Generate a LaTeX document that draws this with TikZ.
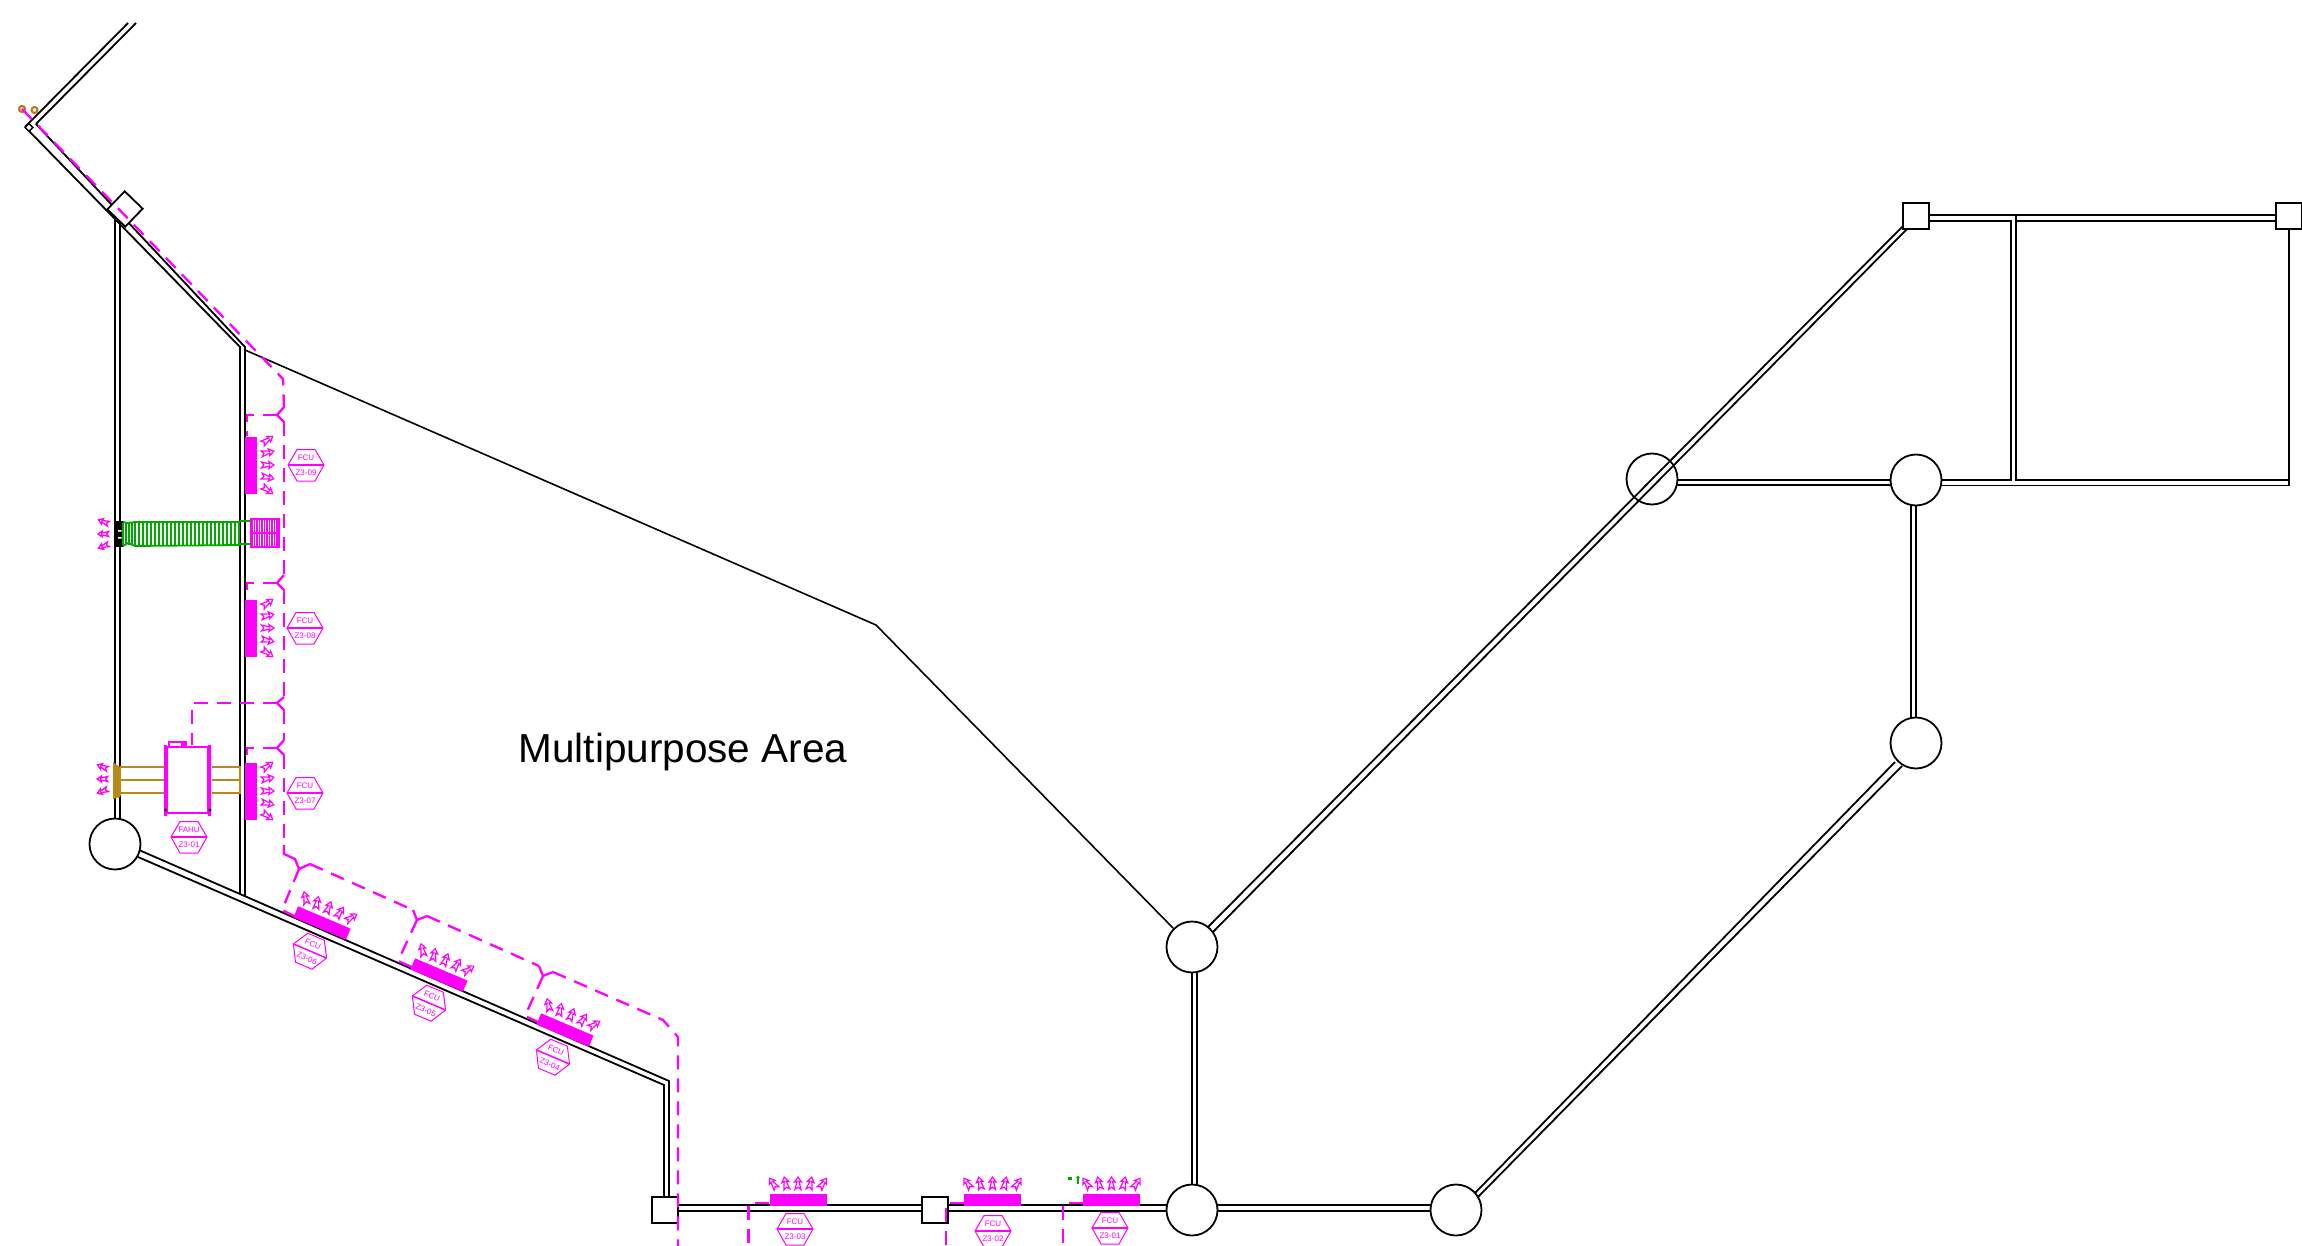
\documentclass[tikz,border=0pt]{standalone}
\usepackage{fontspec}
\setmainfont{Liberation Sans}
\definecolor{mag}{HTML}{FF00FF}
\definecolor{grn}{HTML}{00A800}
\definecolor{gld}{HTML}{B8891A}
\definecolor{org}{HTML}{C8701E}
\tikzset{
  wall/.style={black,line width=1.8pt},
  thinwall/.style={black,line width=1.6pt},
  junc/.style={circle,draw=black,fill=white,line width=1.8pt,minimum size=51pt,inner sep=0pt},
  sqnode/.style={rectangle,draw=black,fill=white,line width=1.8pt,minimum size=26pt,inner sep=0pt},
  pipe/.style={mag,line width=2.3pt,dash pattern=on 14pt off 9pt},
  pipesolid/.style={mag,line width=2.3pt},
  arrowmark/.style={mag,line width=1.2pt,fill=white,line join=miter},
  tagline/.style={mag,line width=1pt},
  tagtext/.style={text=mag,inner sep=0pt,font=\fontsize{8}{9}\selectfont,transform shape},
  rib/.style={grn,line width=1.5pt},
  gold/.style={gld,line width=2pt}
}
\newcommand{\glyph}{(0,-7)--(-3.4,-2)--(-1,-2.6)--(-3,5.5)--(0,3.2)--(3,5.5)--(1,-2.6)--(3.4,-2)--cycle}
% unit: cx cy rotation
\newcommand{\airunit}[3]{%
  \begin{scope}[shift={(#1,#2)},rotate=#3]
    \fill[mag] (-28.5,-6) rectangle (28.5,6);
    \foreach \ox/\oa in {-24.6/35,-12.3/12,0/0,12.3/-12,24.6/-35}{
      \draw[arrowmark,shift={(\ox,-16)},rotate=\oa] \glyph;
    }
  \end{scope}}
% tag: cx cy rotation top bottom
\newcommand{\hextag}[5]{%
  \begin{scope}[shift={(#1,#2)},rotate=#3]
    \draw[tagline] (-18,0)--(-9,-15.5)--(9,-15.5)--(18,0)--(9,16)--(-9,16)--cycle;
    \draw[mag,line width=1.5pt] (-18,0)--(18,0);
    \node[tagtext] at (0,-7.6) {#4};
    \node[tagtext] at (0,8) {#5};
  \end{scope}}
% three arrows pointing left
\newcommand{\airleft}[2]{%
  \begin{scope}[shift={(#1,#2)},rotate=90]
    \foreach \ox/\oa in {-12/22,0/0,12/-22}{
      \draw[arrowmark,line width=1.3pt,shift={(\ox,0)},rotate=\oa,scale=0.85] \glyph;
    }
  \end{scope}}
\begin{document}
\begin{tikzpicture}[x=1pt,y=-1pt]
\useasboundingbox (0,0) rectangle (2302,1246);
\clip (0,0) rectangle (2302,1246);

% ---- walls
\draw[wall] (128,23)--(25,127);
\draw[wall] (136,23)--(36,124);
\draw[wall] (36,124)--(245,347)--(245,896);
\draw[wall] (29,131)--(240,347)--(240,894);
\draw[wall] (115,218)--(115,822);
\draw[wall] (119.7,220)--(119.7,822);
\draw[wall] (139,850)--(669,1081)--(669,1197);
\draw[wall] (138,857)--(664,1085)--(664,1197);
\draw[wall] (678,1205)--(923,1205) (678,1211)--(923,1211);
\draw[wall] (948,1205)--(1167,1205) (948,1211)--(1167,1211);
\draw[wall] (1217,1205)--(1431,1205) (1217,1211)--(1431,1211);
\draw[wall] (1192,972)--(1192,1185) (1197,972)--(1197,1185);
\draw[wall] (1475,1193)--(1895,762);
\draw[wall] (1478,1197)--(1902,766);
\draw[wall] (1911,505)--(1911,718) (1916,505)--(1916,718);
\draw[thinwall] (245,350)--(876,625)--(1173,928);
% ---- room on the right
\draw[thinwall] (1929,215)--(2276,215);
\draw[thinwall] (1929,221)--(2011,221)--(2011,480)--(1941,480);
\draw[thinwall] (2016,215)--(2016,480)--(2289,480)--(2289,229);
\draw[thinwall] (2016,221)--(2276,221);
\draw[thinwall] (1941,485.5)--(2289,485.5)--(2289,480);
\draw[wall] (1677,480)--(1891,480) (1677,485)--(1891,485);

% ---- junctions and squares
\node[junc] (j1) at (115,844) {};
\node[junc] (j2) at (1192,947) {};
\node[junc] (j3) at (1192,1210) {};
\node[junc] (j4) at (1456,1210) {};
\node[junc] (j5) at (1916,743) {};
\node[junc] (j6) at (1916,480) {};
\node[junc] (j7) at (1652,479) {};
\node[sqnode] (s1) at (664.7,1210) {};
\node[sqnode] (s2) at (935.3,1210) {};
\node[sqnode] (s3) at (1916,216) {};
\node[sqnode] (s4) at (2289,216) {};
\node[sqnode,rotate=46,minimum size=25pt] (s5) at (125,209) {};
\node[rectangle,draw=black,fill=white,line width=1.5pt,minimum size=5.5pt,inner sep=0pt,rotate=45] (s6) at (29,127.5) {};

% long diagonal, seen through j7
\draw[wall] (1903,226)--(1208,927);
\draw[wall] (1907,229)--(1213,932);

% ---- label
\node (room) at (683,752) {\fontsize{40.5}{48}\selectfont Multipurpose Area};

% ---- orange markers
\draw[org,line width=2.2pt,fill=white] (22,109) circle (3pt);
\draw[org,line width=2pt,fill=white] (34.5,110) circle (3pt);

% ---- pipes
\draw[pipe] (22,109)--(283,379)--(284,407);
\draw[pipesolid] (284,407)--(277,415)--(284,422);
\draw[pipe] (277,415)--(247,415)--(247,436);
\draw[pipe] (284,422)--(284,575);
\draw[pipesolid] (284,575)--(277,583)--(284,590);
\draw[pipe] (277,583)--(247,583)--(247,599);
\draw[pipe] (284,590)--(284,697);
\draw[pipesolid] (284,697)--(277,703)--(284,710);
\draw[pipe] (277,703)--(192,703)--(192,745);
\draw[pipe] (284,710)--(284,740);
\draw[pipesolid] (284,740)--(277,748)--(284,755);
\draw[pipe] (277,748)--(247,748)--(247,763);
\draw[pipe] (284,755)--(284,845);
\draw[pipesolid] (284,845)--(284,854)--(295,859)--(299,869)--(310,864);
\draw[pipe] (310,864)--(413,910);
\draw[pipesolid] (413,910)--(417,920)--(427,916);
\draw[pipe] (427,916)--(539,966);
\draw[pipesolid] (539,966)--(543,976)--(553,972);
\draw[pipe] (553,972)--(663,1020)--(678,1037)--(678,1246);
\draw[pipe] (299,869)--(282,910)--(294,916);
\draw[pipe] (417,920)--(398,961)--(412,967);
\draw[pipe] (543,976)--(525,1016)--(538,1022);
\draw[pipe] (769,1203)--(748.5,1203)--(748.5,1246);
\draw[pipe] (964,1203)--(946,1203)--(946,1246);
\draw[pipe] (1083,1203)--(1063,1203)--(1063,1246);

% ---- fan coil units
\airunit{251}{465}{-90}
\airunit{251}{628}{-90}
\airunit{251}{791}{-90}
\airunit{322}{923}{-23}
\airunit{439}{975}{-23}
\airunit{565}{1030}{-23}
\airunit{798}{1200}{0}
\airunit{992.5}{1200}{0}
\airunit{1111.5}{1200}{0}

\hextag{306}{465}{0}{FCU}{Z3-09}
\hextag{305}{628}{0}{FCU}{Z3-08}
\hextag{305}{793}{0}{FCU}{Z3-07}
\hextag{310}{951}{-23}{FCU}{Z3-06}
\hextag{429}{1003}{-23}{FCU}{Z3-05}
\hextag{553}{1057}{-23}{FCU}{Z3-04}
\hextag{795}{1229}{0}{FCU}{Z3-03}
\hextag{993}{1231}{0}{FCU}{Z3-02}
\hextag{1110}{1228}{0}{FCU}{Z3-01}
\hextag{189}{837}{0}{FAHU}{Z3-01}

% ---- green duct with black grille
\fill[black] (114,521) rectangle (123,547);
\fill[white] (118,530) rectangle (121.5,531.5) (118,537) rectangle (121.5,538.5);
\draw[rib,line width=1.8pt] (123,522)--(128,523)--(135,522)--(240,522);
\draw[rib,line width=1.8pt] (123,546)--(128,543)--(135,546)--(240,545);
\foreach \gx in {123,126,129,132,135}{\draw[rib] (\gx,523)--(\gx,545);}
\foreach \gx in {139,143,...,239}{\draw[rib] (\gx,522)--(\gx,545);}
\draw[rib,line width=1.8pt] (240,521)--(251,521) (240,544)--(251,544);
\foreach \gx in {252,254.5,...,279}{\draw[mag,line width=1.1pt] (\gx,519)--(\gx,547);}
\draw[mag,line width=1.1pt] (251,519) rectangle (279,547);
\draw[mag,line width=1.1pt] (251,533)--(279,533);
\airleft{104}{534}

% ---- gold ducts
\draw[gold] (120,767)--(164,767) (120,780)--(164,780) (120,793)--(164,793);
\draw[gold] (212,767)--(240,767) (212,780)--(240,780) (212,793)--(240,793);
\fill[gld] (113,762)--(120,767)--(120,797)--(113,799)--cycle;
\draw[gld,line width=2.4pt] (120,767)--(120,796);
\draw[gld,line width=2.4pt] (240,766)--(240,794);
\airleft{103}{779}

% ---- fresh air handling unit
\fill[white] (167,747) rectangle (208,813);
\draw[mag,line width=2pt] (167,747) rectangle (208,813);
\fill[mag] (164,745) rectangle (167,816) (208,745) rectangle (211,816);
\draw[mag,line width=1.2pt] (169,747)--(169,742)--(182,742)--(182,747);
\draw[mag,line width=1.6pt] (184,747)--(184,742)--(186,742)--(186,747);
\fill[black] (165.5,810) circle (1.7pt) (210,810) circle (1.7pt);

% ---- small green marks
\fill[grn] (1068,1177) rectangle (1071.5,1179.5);
\draw[grn,line width=1.5pt] (1078,1176)--(1078,1184);
\fill[grn] (1076,1178)--(1078,1175.5)--(1080,1178)--cycle;
\end{tikzpicture}
\end{document}
